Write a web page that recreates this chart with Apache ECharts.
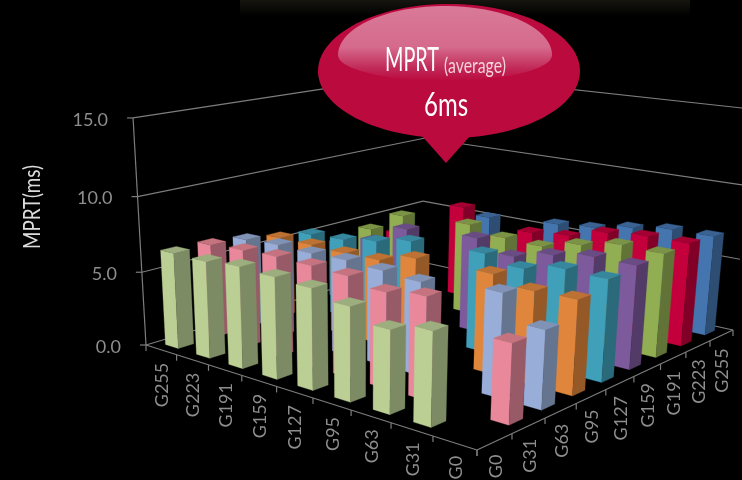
<!DOCTYPE html>
<html>
<head>
<meta charset="utf-8">
<style>html,body{margin:0;padding:0;background:#000}#c{width:742px;height:480px}</style>
<script src="https://cdn.jsdelivr.net/npm/echarts@6/dist/echarts.min.js"></script>
</head>
<body>
<div id="c"></div>
<script>
// ---- data ----
const grayLevels = ['G0','G31','G63','G95','G127','G159','G191','G223','G255'];
const valueTicks = [0, 5, 10, 15];
const valueTickLabels = ['0.0','5.0','10.0','15.0'];
// MPRT (ms): one row per "to" level, one entry per "from" level; the diagonal does not exist
const rowG0   = [null,5.72,5.14,5.91,6.43,6.55,6.65,6.44,6.45];
const rowG31  = [4.90,null,6.41,6.07,6.52,6.61,6.67,6.55,6.40];
const rowG63  = [4.91,6.53,null,6.04,6.21,6.33,6.26,6.31,6.16];
const rowG95  = [6.01,5.94,6.44,null,6.35,5.71,5.65,5.71,5.70];
const rowG127 = [6.58,6.66,6.13,6.58,null,6.36,5.86,5.48,5.36];
const rowG159 = [6.78,6.79,6.37,5.75,6.50,null,6.12,4.80,4.10];
const rowG191 = [6.90,6.95,6.44,5.83,5.92,6.38,null,6.06,4.58];
const rowG223 = [6.97,6.93,6.67,5.95,5.70,4.60,6.60,null,3.70];
const rowG255 = [6.84,6.81,6.45,5.97,5.74,4.00,5.31,null,null];
const rows = [rowG0,rowG31,rowG63,rowG95,rowG127,rowG159,rowG191,rowG223,rowG255];

// ---- style ----
const faces = [
  {l:'#BBCF95',r:'#7C8B63',t:'#9CAE7E'},
  {l:'#E8889A',r:'#985A66',t:'#C4737F'},
  {l:'#98ADD8',r:'#65748F',t:'#8093B6'},
  {l:'#E0863C',r:'#955927',t:'#BD7132'},
  {l:'#40A0BA',r:'#2A6A7B',t:'#36879D'},
  {l:'#7C5A9C',r:'#523B67',t:'#684C83'},
  {l:'#92AE52',r:'#617336',t:'#7B9345'},
  {l:'#C4003C',r:'#820028',t:'#A50032'},
  {l:'#4575AE',r:'#2E4D73',t:'#3A6293'}
];
const frameColor = '#7d7d7d';
const labelColor = '#8e8e8e';
const labelFont = 'Lato';

// ---- perspective (floor corners + vertical) ----
const cF=[477,450], cL=[146,345], cB=[422,262], cR=[733,330];
const up=[-25.2,-287,-0.07];
const H=(function(){
  const dx1=cL[0]-cB[0],dx2=cR[0]-cB[0],sx=cF[0]-cL[0]+cB[0]-cR[0];
  const dy1=cL[1]-cB[1],dy2=cR[1]-cB[1],sy=cF[1]-cL[1]+cB[1]-cR[1];
  const den=dx1*dy2-dx2*dy1;
  const g=(sx*dy2-dx2*sy)/den, h=(dx1*sy-sx*dy1)/den;
  return {a:cL[0]-cF[0]+g*cL[0],b:cR[0]-cF[0]+h*cR[0],c:cF[0],
          d:cL[1]-cF[1]+g*cL[1],e:cR[1]-cF[1]+h*cR[1],f:cF[1],g:g,h:h};
})();
function proj(u,v,t){
  const w=H.g*u+H.h*v+1+t*up[2];
  return [(H.a*u+H.b*v+H.c+t*up[0])/w,(H.d*u+H.e*v+H.f+t*up[1])/w];
}
const halfBar=0.21/9, bin=1/9;

// cells, far to near
const cells=[];
rows.forEach((row,r)=>row.forEach((val,l)=>{ if(val!==null) cells.push([l,val,r]); }));
cells.sort((p,q)=>(q[0]+q[2])-(p[0]+p[2]));

function frac(api,cat,val){ // read position through the hidden axes
  const p=api.coord([cat,val]);
  return [p[0]/api.getWidth(),1-p[1]/api.getHeight()];
}
function renderBar(params,api){
  const l=api.value(0),val=api.value(1),r=api.value(2);
  const u=frac(api,l,0)[0], v=frac(api,r,0)[0], t=frac(api,l,val)[1];
  const u0=u-halfBar,u1=u+halfBar,v0=v-halfBar,v1=v+halfBar;
  const f=faces[r];
  const poly=(pts,fill)=>({type:'polygon',shape:{points:pts},style:{fill:fill,stroke:fill,lineWidth:0.3}});
  return {type:'group',children:[
    poly([proj(u0,v0,0),proj(u1,v0,0),proj(u1,v0,t),proj(u0,v0,t)],f.l),
    poly([proj(u0,v0,0),proj(u0,v1,0),proj(u0,v1,t),proj(u0,v0,t)],f.r),
    poly([proj(u0,v0,t),proj(u1,v0,t),proj(u1,v1,t),proj(u0,v1,t)],f.t)
  ]};
}
function lineEl(a,b){return {type:'line',shape:{x1:a[0],y1:a[1],x2:b[0],y2:b[1]},style:{stroke:frameColor,lineWidth:1.2}};}
function renderWall(params,api){
  const i=params.dataIndex, t=frac(api,0,api.value(1))[1];
  const L=proj(1,0,t),B=proj(1,1,t),R=proj(0,1,t);
  return {type:'group',children:[
    lineEl(L,B),lineEl(B,R),lineEl([L[0]-6,L[1]],L),
    {type:'text',x:L[0]-25,y:L[1]+2,style:{text:valueTickLabels[i],fontFamily:labelFont,fontSize:18,fill:labelColor,align:'right',verticalAlign:'middle'}}
  ]};
}
function renderFloor(params,api){
  const tops=proj(1,0,1), base=proj(1,0,0);
  return {type:'group',children:[lineEl(base,tops),lineEl(cF,cL),lineEl(cF,cR)]};
}
function axisLabel(text,x,y){
  return {type:'text',x:x+1,y:y+13,rotation:Math.PI/2,style:{text:text,fontFamily:labelFont,fontSize:18,fill:labelColor,align:'right',verticalAlign:'middle'}};
}
function renderTickLeft(params,api){
  const i=params.dataIndex;
  const p=proj(i*bin,0,0);
  const children=[lineEl(p,[p[0],p[1]+6])];
  if(i<grayLevels.length){
    const c=proj(frac(api,i,0)[0],0,0);
    children.push(axisLabel(grayLevels[i],c[0],c[1]));
  }
  return {type:'group',children:children};
}
function renderTickRight(params,api){
  const i=params.dataIndex;
  const p=proj(0,i*bin,0);
  const children=[lineEl(p,[p[0],p[1]+6])];
  if(i<grayLevels.length){
    const c=proj(0,frac(api,i,0)[0],0);
    children.push(axisLabel(grayLevels[i],c[0],c[1]));
  }
  return {type:'group',children:children};
}
const tickIdx=[0,1,2,3,4,5,6,7,8,9].map(i=>[i,0]);

// gloss outline of the bubble: taller above its widest line than below
function glossPoints(cx,cy,rx,ryUp,ryDown){
  const pts=[];
  for(let a=0;a<360;a+=4){
    const s=Math.sin(a*Math.PI/180),c=Math.cos(a*Math.PI/180);
    pts.push([cx+rx*c,cy-(s>0?ryUp:ryDown)*s]);
  }
  return pts;
}

const chart=echarts.init(document.getElementById('c'),null,{renderer:'canvas'});
chart.setOption({
  animation:false,
  backgroundColor:'#000',
  grid:{left:0,right:0,top:0,bottom:0},
  xAxis:{type:'category',data:grayLevels,show:false},
  yAxis:{type:'value',min:0,max:15,interval:5,show:false},
  series:[
    {type:'custom',name:'walls',renderItem:renderWall,data:valueTicks.map(v=>[0,v]),encode:{x:0,y:1},silent:true,z:1,clip:false},
    {type:'custom',name:'floor',renderItem:renderFloor,data:[[0,0]],silent:true,z:1},
    {type:'custom',name:'left ticks',renderItem:renderTickLeft,data:tickIdx,silent:true,z:1},
    {type:'custom',name:'right ticks',renderItem:renderTickRight,data:tickIdx,silent:true,z:1},
    {type:'custom',name:'MPRT',renderItem:renderBar,data:cells,encode:{x:0,y:1},silent:true,z:3}
  ],
  graphic:{elements:[
    {type:'rect',z:0,silent:true,shape:{x:240,y:0,width:450,height:16},
     style:{fill:new echarts.graphic.LinearGradient(0,0,0,1,[{offset:0,color:'#16150f'},{offset:1,color:'#000'}])}},
    {type:'text',z:100,silent:true,x:32,y:207,rotation:Math.PI/2,scaleX:0.78,
     style:{text:'MPRT(ms)',fontFamily:labelFont,fontSize:24,fill:'#dcdcdc',align:'center',verticalAlign:'middle'}},
    {type:'polygon',z:100,silent:true,shape:{points:[[422,136],[446,163],[470,136]]},style:{fill:'#BB0A3E'}},
    {type:'ellipse',z:100,silent:true,shape:{cx:449,cy:71,rx:131,ry:67},style:{fill:'#BB0A3E'}},
    {type:'polygon',z:101,silent:true,shape:{points:glossPoints(445,55,107,49,26)},
     style:{fill:new echarts.graphic.LinearGradient(0,0,0,1,[{offset:0,color:'#D97A98'},{offset:0.55,color:'#D56A8C'},{offset:0.85,color:'#C02555'},{offset:1,color:'#BB0A3E'}])}},
    {type:'text',z:102,silent:true,x:412,y:61,scaleX:0.62,style:{text:'MPRT',fontFamily:labelFont,fontSize:32,fill:'#fff',align:'center',verticalAlign:'middle'}},
    {type:'text',z:102,silent:true,x:475,y:66,scaleX:0.72,style:{text:'(average)',fontFamily:labelFont,fontSize:22,fill:'#f3d3dc',align:'center',verticalAlign:'middle'}},
    {type:'text',z:102,silent:true,x:446,y:106,scaleX:0.75,style:{text:'6ms',fontFamily:labelFont,fontSize:32,fill:'#fff',align:'center',verticalAlign:'middle'}}
  ]}
});
</script>
</body>
</html>
